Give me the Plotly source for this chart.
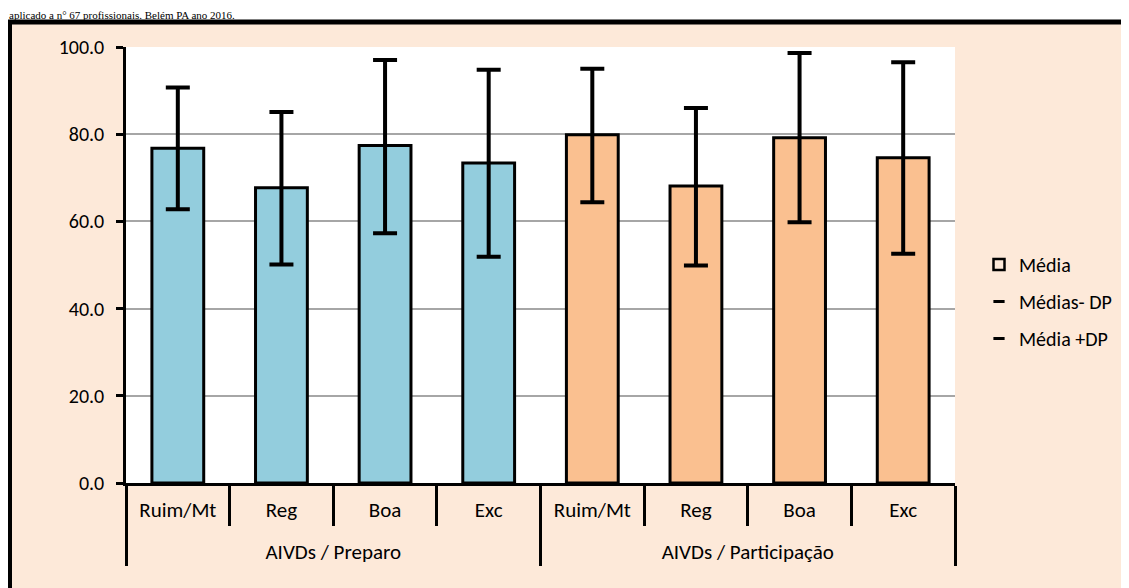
import plotly.graph_objects as go

# ---- data ----
grupos = ["AIVDs / Preparo"] * 4 + ["AIVDs / Participação"] * 4
categorias = ["Ruim/Mt", "Reg", "Boa", "Exc"] * 2
media = [76.8, 67.7, 77.4, 73.4, 79.9, 68.1, 79.2, 74.6]
media_menos_dp = [62.8, 50.1, 57.3, 51.9, 64.4, 49.9, 59.8, 52.6]
media_mais_dp = [90.7, 85.1, 97.0, 94.8, 95.0, 86.0, 98.6, 96.5]
cores = ["#93CDDD"] * 4 + ["#FAC090"] * 4
y_ticks = [0, 20, 40, 60, 80, 100]

BG = "#FDE9D9"
FONT = "Carlito, Lato, sans-serif"

# page has an 8px body margin -> work in screen pixels, convert to figure
OFF = 8
W, H = 1129 - OFF, 588 - OFF
PL, PR, PT, PB = 126, 955, 47, 483          # plot area in screen pixels
L, R, T, B = PL - OFF, (1129 - PR), PT - OFF, (588 - PB)
pw, ph = PR - PL, PB - PT

def px_x(p):
    return (p - PL) / pw

def px_y(p):
    return (PB - p) / ph

# invisible tall spacer to open the gap between the two label rows
SP = "<span style='font-size:38px'> </span>"
cat_labels = [SP + c + SP for c in categorias]

err_plus = [h - m for h, m in zip(media_mais_dp, media)]
err_minus = [m - l for m, l in zip(media, media_menos_dp)]

fig = go.Figure()
fig.add_trace(go.Bar(
    x=[grupos, cat_labels], y=media,
    marker=dict(color=cores, line=dict(color="black", width=3)),
    error_y=dict(type="data", symmetric=False, array=err_plus, arrayminus=err_minus,
                 color="black", thickness=4, width=12),
    showlegend=False,
))

# legend entries
fig.add_trace(go.Scatter(x=[None], y=[None], mode="markers", name="Média",
                         marker=dict(symbol="square", size=11, color=BG,
                                     line=dict(color="black", width=2.5)),
                         legendgroup="a"))
fig.add_trace(go.Scatter(x=[None], y=[None], mode="markers", name="Médias- DP",
                         marker=dict(symbol="line-ew", size=8,
                                     line=dict(color="black", width=3)),
                         legendgroup="b"))
fig.add_trace(go.Scatter(x=[None], y=[None], mode="markers", name="Média +DP",
                         marker=dict(symbol="line-ew", size=8,
                                     line=dict(color="black", width=3)),
                         legendgroup="c"))

fig.update_layout(
    width=W, height=H,
    margin=dict(l=L, r=R, t=T, b=B, autoexpand=False),
    paper_bgcolor="white",
    plot_bgcolor="white",
    bargap=0.5,
    font=dict(family=FONT, size=20, color="black"),
    legend=dict(x=px_x(979), xanchor="left", y=px_y(245), yanchor="top",
                bgcolor="rgba(0,0,0,0)", itemwidth=30, tracegroupgap=8,
                font=dict(family=FONT, size=20, color="black")),
    shapes=[
        dict(type="rect", xref="paper", yref="paper",
             x0=px_x(9.5), x1=px_x(1150), y0=px_y(620), y1=px_y(22),
             fillcolor=BG, line=dict(color="black", width=5), layer="below"),
        dict(type="rect", xref="paper", yref="paper",
             x0=0, x1=1, y0=0, y1=1,
             fillcolor="white", line=dict(width=0), layer="below"),
    ],
    annotations=[
        dict(text="aplicado a n° 67 profissionais. Belém PA ano 2016.",
             xref="paper", yref="paper", x=px_x(8), y=px_y(8),
             xanchor="left", yanchor="top", showarrow=False, borderpad=0,
             font=dict(family="Liberation Serif", size=11, color="black")),
    ],
)

fig.update_yaxes(range=[0, 100], tickvals=y_ticks, tickformat=".1f",
                 showgrid=True, gridcolor="#A6A6A6", gridwidth=1.5,
                 showline=True, linecolor="black", linewidth=2.5,
                 ticks="outside", ticklen=7, tickwidth=2.5, tickcolor="black",
                 ticklabelstandoff=8, zeroline=False,
                 tickfont=dict(family=FONT, size=20, color="black"))
fig.update_xaxes(type="multicategory", showline=True, linecolor="black", linewidth=2.5,
                 ticks="outside", ticklen=40, tickwidth=3, tickcolor="black",
                 tickson="boundaries", tickangle=0,
                 showdividers=True, dividercolor="black", dividerwidth=3,
                 ticklabelstandoff=6,
                 tickfont=dict(family=FONT, size=21, color="black"))

fig.write_html("out.html")
